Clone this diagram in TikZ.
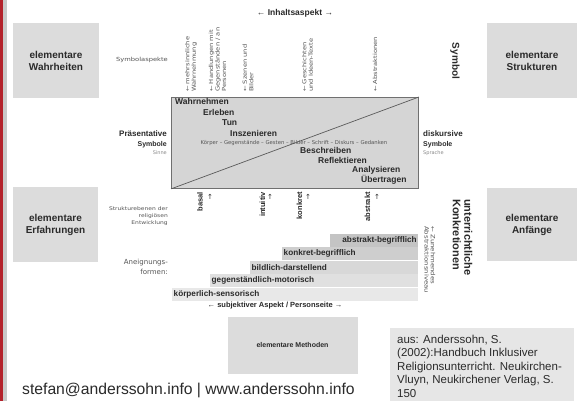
\documentclass[tikz,border=0pt]{standalone}
\usepackage{fontspec}
\setmainfont{Liberation Sans}
\newfontfamily\dv{DejaVu Sans}
\newfontfamily\dvw[FakeStretch=1.2]{DejaVu Sans}
\definecolor{boxgray}{HTML}{DCDCDC}
\definecolor{rectfill}{HTML}{D5D5D5}
\definecolor{rectline}{HTML}{707070}
\definecolor{txt}{HTML}{2A2A2A}
\definecolor{txtlight}{HTML}{555555}
\definecolor{txtgray}{HTML}{8A8A8A}
\definecolor{redbar}{HTML}{B3212B}
\definecolor{sidegray}{HTML}{C8C8C8}
\definecolor{citegray}{HTML}{E6E6E6}
\definecolor{barA}{HTML}{C4C4C4}
\definecolor{barB}{HTML}{CECECE}
\definecolor{barC}{HTML}{D8D8D8}
\definecolor{barD}{HTML}{E0E0E0}
\definecolor{barE}{HTML}{E8E8E8}
\tikzset{
  elbox/.style={fill=boxgray, draw=none, align=center, inner sep=0, text=txt,
    font=\bfseries\fontsize{10}{12}\selectfont},
  inlabel/.style={inner sep=0, text=txt, font=\bfseries\fontsize{8.5}{10}\selectfont},
  tinytext/.style={inner sep=0, text=txtlight, align=left, font=\dvw\fontsize{5.6}{6.5}\selectfont},
  lvl/.style={inner sep=0, text=txt, font=\bfseries\fontsize{7.5}{9}\selectfont},
  uparrow/.style={inner sep=0, text=txt, font=\dv\fontsize{7}{8}\selectfont},
  stair/.style={anchor=north west, inner xsep=1.5, inner ysep=0, minimum height=13,
    text=txt, font=\bfseries\fontsize{8.2}{9}\selectfont},
}
\begin{document}
\begin{tikzpicture}[x=1pt,y=-1pt]
\useasboundingbox (0,0) rectangle (579,401);
\fill[white] (0,0) rectangle (579,401);
% left bar
\fill[redbar] (0,0) rectangle (3,401);
\fill[sidegray] (3,0) rectangle (7,401);

% corner boxes
\node[elbox, minimum width=86, minimum height=75] (wahr) at (56,60.5) {elementare\\Wahrheiten};
\node[elbox, minimum width=90, minimum height=75] (struk) at (532,60.5) {elementare\\Strukturen};
\node[elbox, minimum width=85, minimum height=75] (erf) at (55.5,225) {elementare\\Erfahrungen};
\node[elbox, minimum width=90, minimum height=73] (anf) at (532,224.5) {elementare\\Anfänge};
\node[elbox, minimum width=130, minimum height=57, font=\bfseries\fontsize{7}{9}\selectfont] (meth) at (292.5,345) {elementare Methoden};

% top labels
\node[inner sep=0, text=txt, font=\bfseries\fontsize{8.5}{10}\selectfont] (inhalt) at (295,13.5) {← Inhaltsaspekt →};
\node[tinytext, anchor=base] (symasp) at (142,62) {Symbolaspekte};
\node[tinytext, rotate=90, anchor=west] (c1) at (191,92) {← mehrsinnliche\\Wahrnehmung};
\node[tinytext, rotate=90, anchor=west] (c2) at (217.5,92) {← Handlungen mit\\Gegenständen / an\\Personen};
\node[tinytext, rotate=90, anchor=west] (c3) at (248,92) {← Szenen und\\Bilder};
\node[tinytext, rotate=90, anchor=west] (c4) at (307.5,92) {← Geschichten\\und Ideen-Texte};
\node[tinytext, rotate=90, anchor=west] (c5) at (375,92) {← Abstraktionen};
\node[inner sep=0, text=txt, rotate=-90, font=\bfseries\fontsize{10}{12}\selectfont] (symbol) at (455,61) {Symbol};

% main rectangle
\node[draw=rectline, fill=rectfill, line width=0.9, minimum width=247, minimum height=91, inner sep=0, anchor=north west] (main) at (171,97) {};
\draw[rectline!80!black, line width=0.7] (main.south west) -- (main.north east);

\node[inlabel, anchor=base west] (wahrn) at (175,105) {Wahrnehmen};
\node[inlabel, anchor=base west] (erleb) at (203,116) {Erleben};
\node[inlabel, anchor=base west] (tun) at (222,125.5) {Tun};
\node[inlabel, anchor=base west] (insz) at (230,137) {Inszenieren};
\node[inner sep=0, anchor=base, text=txtlight, font=\dv\fontsize{5.3}{6}\selectfont] (medien) at (294,145) {Körper – Gegenstände – Gesten – Bilder – Schrift – Diskurs – Gedanken};
\node[inlabel, anchor=base west] (besch) at (300,154) {Beschreiben};
\node[inlabel, anchor=base west] (refl) at (318,163.5) {Reflektieren};
\node[inlabel, anchor=base west] (anal) at (352,173) {Analysieren};
\node[inlabel, anchor=base west] (uebert) at (361,183) {Übertragen};

% side labels
\node[inner sep=0, anchor=base east, text=txt, font=\bfseries\fontsize{8}{9}\selectfont] (praes) at (167,137) {Präsentative};
\node[inner sep=0, anchor=base east, text=txt, font=\bfseries\fontsize{7}{8}\selectfont] (symL) at (167,147) {Symbole};
\node[inner sep=0, anchor=base east, text=txtgray, font=\dv\fontsize{5}{6}\selectfont] (sinne) at (167,155) {Sinne};
\node[inner sep=0, anchor=base west, text=txt, font=\bfseries\fontsize{8}{9}\selectfont] (disk) at (423,137) {diskursive};
\node[inner sep=0, anchor=base west, text=txt, font=\bfseries\fontsize{7}{8}\selectfont] (symR) at (423,147) {Symbole};
\node[inner sep=0, anchor=base west, text=txtgray, font=\dv\fontsize{5}{6}\selectfont] (sprache) at (423,155) {Sprache};

% levels below rectangle
\node[lvl, rotate=90, anchor=east] (basal) at (200,192) {basal};
\node[lvl, rotate=90, anchor=east] (intu) at (262.5,192) {intuitiv};
\node[lvl, rotate=90, anchor=east] (konk) at (299.5,192) {konkret};
\node[lvl, rotate=90, anchor=east] (abst) at (367.5,192) {abstrakt};
\node[uparrow] (a1) at (210,197) {↑};
\node[uparrow] (a2) at (270,197) {↑};
\node[uparrow] (a3) at (308,197) {↑};
\node[uparrow] (a4) at (377,197) {↑};

\node[inner sep=0, anchor=north east, align=right, text=txtlight, font=\dvw\fontsize{5}{7}\selectfont] (struktur) at (168,207) {Strukturebenen der\\religiösen\\Entwicklung};
\node[inner sep=0, anchor=north east, align=right, text=txtlight, font=\dv\fontsize{7}{10}\selectfont] (aneig) at (168,258.7) {Aneignungs-\\formen:};

% staircase
\node[stair, fill=barA, minimum width=88, text width=85, align=right] (s1) at (330,234) {abstrakt-begrifflich};
\node[stair, fill=barB, minimum width=136, text width=133, align=left] (s2) at (282,247) {konkret-begrifflich};
\node[stair, fill=barC, minimum width=168, text width=165, align=left] (s3) at (250,261) {bildlich-darstellend};
\node[stair, fill=barD, minimum width=208, text width=205, align=left] (s4) at (210,274) {gegenständlich-motorisch};
\node[stair, fill=barE, minimum width=246, text width=243, align=left] (s5) at (172,288) {körperlich-sensorisch};
\node[inner sep=0, text=txt, font=\bfseries\fontsize{7.5}{9}\selectfont] (subj) at (275,306) {← subjektiver Aspekt / Personseite →};

% right rotated
\node[inner sep=0, rotate=-90, anchor=west, align=left, text=txtlight, font=\dvw\fontsize{5.8}{6.3}\selectfont] (zun) at (430,226) {← Zunehmendes\\Abstraktionsniveau};
\node[inner sep=0, rotate=-90, anchor=west, align=left, text=txt, font=\bfseries\fontsize{11}{11.5}\selectfont] (unterr) at (462.5,199) {unterrichtliche\\Konkretionen};

% citation
\node[fill=citegray, minimum width=184, minimum height=75, inner sep=0, anchor=north west] (citebox) at (390,328) {};
\node[inner sep=0, anchor=north west, align=left, text=txt, font=\fontsize{11.5}{13.5}\selectfont] (cite) at (397,334.5) {aus: Anderssohn, S.\\(2002):Handbuch Inklusiver\\Religionsunterricht. Neukirchen-\\Vluyn, Neukirchener Verlag, S.\\150};

% email
\node[inner sep=0, anchor=base west, text=txt, font=\fontsize{15.7}{18}\selectfont] (mail) at (22,394) {stefan@anderssohn.info | www.anderssohn.info};
\end{tikzpicture}
\end{document}
